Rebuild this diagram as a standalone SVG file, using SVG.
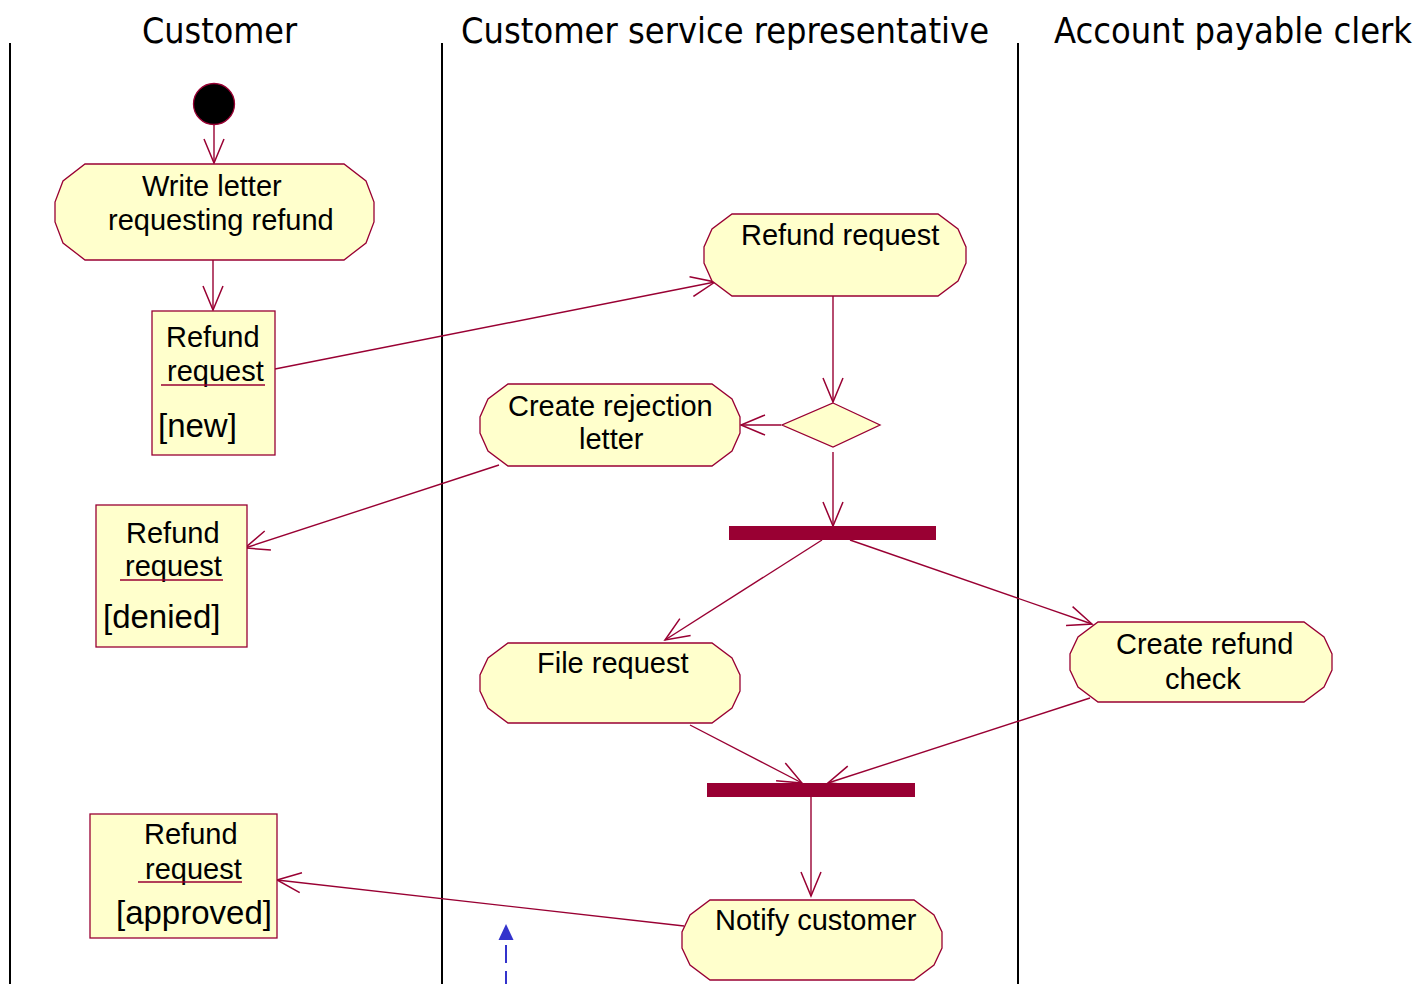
<svg xmlns="http://www.w3.org/2000/svg" width="1416" height="984" viewBox="0 0 1416 984">
<style>
.lane{stroke:#000;stroke-width:2;fill:none}
.title{font-family:"DejaVu Sans Condensed","DejaVu Sans",sans-serif;font-stretch:condensed;font-size:36px;fill:#000}
.act{fill:#ffffcc;stroke:#990033;stroke-width:1.3}
.obj{fill:#ffffcc;stroke:#990033;stroke-width:1.3}
.t{font-family:"Liberation Sans",Arial,sans-serif;font-size:29px;fill:#000}
.st{font-family:"Liberation Sans",Arial,sans-serif;font-size:33px;fill:#000}
.ul{stroke:#990033;stroke-width:1.3}
.bar{fill:#990033}
.edge{stroke:#990033;stroke-width:1.4;fill:none;marker-end:url(#open)}
</style>
<defs>
<marker id="open" viewBox="0 0 27 22" refX="25" refY="11" markerWidth="27" markerHeight="22" markerUnits="userSpaceOnUse" orient="auto">
<path d="M1,1 L25,11 L1,21" fill="none" stroke="#990033" stroke-width="1.5"/>
</marker>
</defs>
<rect width="1416" height="984" fill="#fff"/>
<g id="lanes">
<line class="lane" x1="10" y1="43" x2="10" y2="984"/>
<line class="lane" x1="442" y1="43" x2="442" y2="984"/>
<line class="lane" x1="1018" y1="43" x2="1018" y2="984"/>
<text class="title" x="142" y="43" textLength="155" lengthAdjust="spacingAndGlyphs">Customer</text>
<text class="title" x="461" y="43" textLength="528" lengthAdjust="spacingAndGlyphs">Customer service representative</text>
<text class="title" x="1054" y="43" textLength="358" lengthAdjust="spacingAndGlyphs">Account payable clerk</text>
</g>
<g id="connectors">
<line class="edge" x1="214" y1="124" x2="214" y2="163"/>
<line class="edge" x1="213" y1="260" x2="213" y2="310"/>
<line class="edge" x1="275" y1="369" x2="715" y2="282"/>
<line class="edge" x1="833" y1="296" x2="833" y2="402"/>
<line class="edge" x1="781" y1="425" x2="741" y2="425"/>
<line class="edge" x1="833" y1="452" x2="833" y2="526"/>
<line class="edge" x1="499" y1="465" x2="245" y2="548"/>
<line class="edge" x1="822" y1="540" x2="665" y2="640"/>
<line class="edge" x1="850" y1="540" x2="1092" y2="624"/>
<line class="edge" x1="690" y1="725" x2="802" y2="783"/>
<line class="edge" x1="1090" y1="698" x2="828" y2="783"/>
<line class="edge" x1="811" y1="797" x2="811" y2="896"/>
<line class="edge" x1="684" y1="926" x2="277" y2="880"/>
<line x1="506" y1="984" x2="506" y2="940" stroke="#3333cc" stroke-width="2" stroke-dasharray="18 8" stroke-dashoffset="5"/>
<polygon points="506,924 498.5,940 513.5,940" fill="#3333cc"/>
</g>
<g id="initial">
<circle cx="214" cy="104" r="20.5" fill="#000" stroke="#990033" stroke-width="1.3"/>
</g>
<g id="write-letter">
<polygon class="act" points="85,164 344,164 366,181 374,202 374,222 366,243 344,260 85,260 63,243 55,222 55,202 63,181"/>
<text class="t" x="142" y="196">Write letter</text>
<text class="t" x="108" y="230">requesting refund</text>
</g>
<g id="obj-new">
<rect class="obj" x="152" y="311" width="123" height="144"/>
<text class="t" x="166" y="347">Refund</text>
<text class="t" x="167" y="381">request</text>
<line class="ul" x1="161" y1="385" x2="265" y2="385"/>
<text class="st" x="158" y="437">[new]</text>
</g>
<g id="refund-request">
<polygon class="act" points="732,214 938,214 958,229 966,247 966,263 958,281 938,296 732,296 712,281 704,263 704,247 712,229"/>
<text class="t" x="741" y="245">Refund request</text>
</g>
<g id="decision">
<polygon class="act" points="833,403 880,425 833,447 782,425"/>
</g>
<g id="create-rejection">
<polygon class="act" points="508,384 712,384 732,399 740,417 740,433 732,451 712,466 508,466 488,451 480,433 480,417 488,399"/>
<text class="t" x="508" y="416">Create rejection</text>
<text class="t" x="579" y="449">letter</text>
</g>
<g id="fork">
<rect class="bar" x="729" y="526" width="207" height="14"/>
</g>
<g id="obj-denied">
<rect class="obj" x="96" y="505" width="151" height="142"/>
<text class="t" x="126" y="543">Refund</text>
<text class="t" x="125" y="576">request</text>
<line class="ul" x1="120" y1="580" x2="223" y2="580"/>
<text class="st" x="103" y="628">[denied]</text>
</g>
<g id="file-request">
<polygon class="act" points="508,643 712,643 732,658 740,675 740,691 732,708 712,723 508,723 488,708 480,691 480,675 488,658"/>
<text class="t" x="537" y="673">File request</text>
</g>
<g id="create-refund-check">
<polygon class="act" points="1098,622 1304,622 1324,637 1332,654 1332,670 1324,687 1304,702 1098,702 1078,687 1070,670 1070,654 1078,637"/>
<text class="t" x="1116" y="654">Create refund</text>
<text class="t" x="1165" y="689">check</text>
</g>
<g id="join">
<rect class="bar" x="707" y="783" width="208" height="14"/>
</g>
<g id="notify-customer">
<polygon class="act" points="710,900 914,900 934,915 942,932 942,948 934,965 914,980 710,980 690,965 682,948 682,932 690,915"/>
<text class="t" x="715" y="930">Notify customer</text>
</g>
<g id="obj-approved">
<rect class="obj" x="90" y="814" width="187" height="124"/>
<text class="t" x="144" y="844">Refund</text>
<text class="t" x="145" y="879">request</text>
<line class="ul" x1="138" y1="882" x2="242" y2="882"/>
<text class="st" x="116" y="924">[approved]</text>
</g>
</svg>
